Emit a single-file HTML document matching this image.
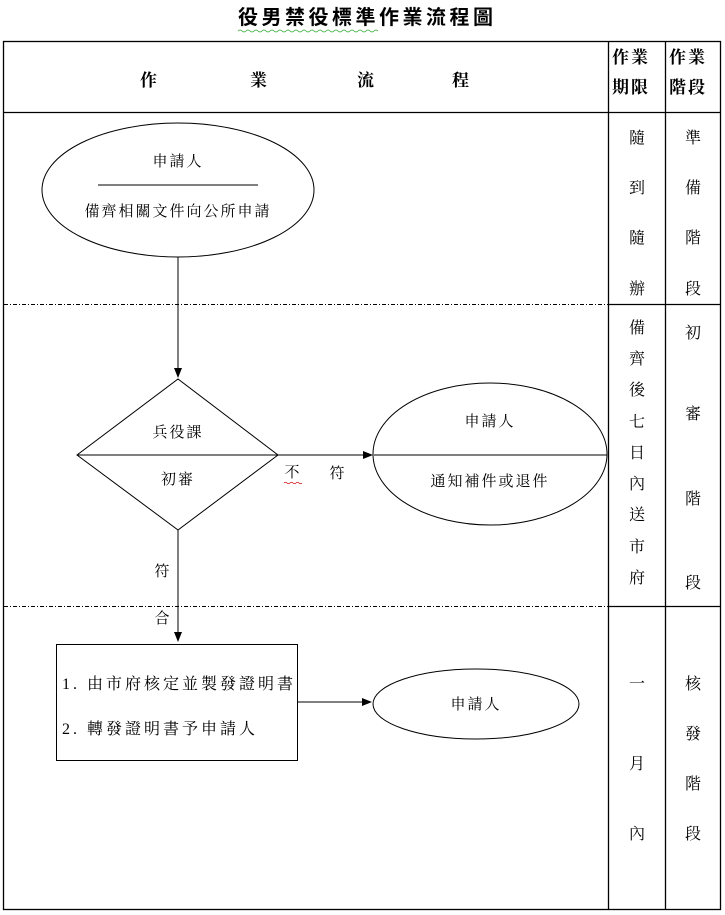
<!DOCTYPE html>
<html><head><meta charset="utf-8"><style>
body{margin:0;background:#fff;}
svg{display:block;}
text{font-family:"Liberation Serif","Noto Serif CJK SC","Noto Serif CJK TC",serif;fill:#000;}
.b{font-family:"Liberation Sans","Noto Sans CJK TC",sans-serif;font-weight:bold;}
</style></head><body>
<svg width="725" height="915" viewBox="0 0 725 915" xmlns="http://www.w3.org/2000/svg">
<defs><marker id="a" markerWidth="10" markerHeight="8" refX="9" refY="4" orient="auto" markerUnits="userSpaceOnUse"><path d="M0,0 L10,4 L0,8 Z" fill="#000"/></marker></defs>
<text class="b" x="238" y="24" font-size="20" letter-spacing="3.5">役男禁役標準作業流程圖</text>
<path d="M238 31 q2 -2 4 0 t4 0 t4 0 t4 0 t4 0 t4 0 t4 0 t4 0 t4 0 t4 0 t4 0 t4 0 t4 0 t4 0 t4 0 t4 0 t4 0 t4 0 t4 0 t4 0 t4 0 t4 0 t4 0 t4 0 t4 0 t4 0 t4 0 t4 0 t4 0 t4 0 t4 0 t4 0 t4 0 t4 0 t4 0" stroke="#3a3" fill="none" stroke-width="0.8"/>
<g stroke="#000" fill="none" stroke-width="1.3">
<rect x="3.5" y="41.5" width="717" height="868"/>
<line x1="3" y1="112.5" x2="721" y2="112.5"/>
<line x1="608.5" y1="41" x2="608.5" y2="909"/>
<line x1="665.5" y1="41" x2="665.5" y2="909"/>
<line x1="608" y1="304.5" x2="721" y2="304.5"/>
<line x1="608" y1="606.5" x2="721" y2="606.5"/>
</g>
<g stroke="#000" stroke-width="1" stroke-dasharray="4,2,1,2" fill="none">
<line x1="4" y1="304.5" x2="608" y2="304.5"/>
<line x1="4" y1="606.5" x2="608" y2="606.5"/>
</g>
<g class="b" font-size="17">
<text x="140" y="86">作</text><text x="250" y="86">業</text><text x="357" y="86">流</text><text x="452" y="86">程</text>
<text x="612" y="63" letter-spacing="2">作業</text><text x="612" y="93" letter-spacing="2">期限</text>
<text x="669" y="63" letter-spacing="2">作業</text><text x="669" y="93" letter-spacing="2">階段</text>
</g>
<g font-size="16" text-anchor="middle">
<text x="637" y="143">隨</text><text x="637" y="193">到</text><text x="637" y="243">隨</text><text x="637" y="294">辦</text>
<text x="693" y="143">準</text><text x="693" y="193">備</text><text x="693" y="243">階</text><text x="693" y="294">段</text>
<text x="637" y="333">備</text><text x="637" y="364">齊</text><text x="637" y="395">後</text><text x="637" y="427">七</text><text x="637" y="458">日</text><text x="637" y="489">內</text><text x="637" y="520">送</text><text x="637" y="552">市</text><text x="637" y="583">府</text>
<text x="693" y="338">初</text><text x="693" y="419">審</text><text x="693" y="504">階</text><text x="693" y="588">段</text>
<text x="637" y="689">一</text><text x="637" y="769">月</text><text x="637" y="839">內</text>
<text x="693" y="689">核</text><text x="693" y="739">發</text><text x="693" y="789">階</text><text x="693" y="839">段</text>
</g>
<g stroke="#000" fill="none" stroke-width="1">
<ellipse cx="178" cy="190" rx="136" ry="67"/>
<line x1="98" y1="185" x2="258" y2="185"/>
<line x1="178" y1="257" x2="178" y2="377" marker-end="url(#a)"/>
<polygon points="178,379 278,455 178,530 77,455"/>
<line x1="77" y1="455" x2="372" y2="455" marker-end="url(#a)"/>
<ellipse cx="490" cy="454" rx="117" ry="71"/>
<line x1="374" y1="455" x2="607" y2="455"/>
<line x1="178" y1="530" x2="178" y2="641" marker-end="url(#a)"/>
<rect x="56.5" y="644.5" width="241" height="116"/>
<line x1="297" y1="702" x2="371" y2="702" marker-end="url(#a)"/>
<ellipse cx="476" cy="704" rx="103" ry="35"/>
</g>
<path d="M284 483 q1.5 -1.5 3 0 t3 0 t3 0 t3 0 t3 0 t3 0" stroke="#c00" fill="none" stroke-width="0.7"/>
<g font-size="15" text-anchor="middle" letter-spacing="2">
<text x="178" y="166">申請人</text>
<text x="178" y="216">備齊相關文件向公所申請</text>
<text x="178" y="437">兵役課</text>
<text x="178" y="484">初審</text>
<text x="293" y="477">不</text><text x="338" y="478">符</text>
<text x="490" y="426">申請人</text>
<text x="490" y="486">通知補件或退件</text>
<text x="163" y="576">符</text><text x="163" y="623">合</text>
<text x="476" y="709">申請人</text>
</g>
<g font-size="16" letter-spacing="3">
<text x="62" y="689">1. 由市府核定並製發證明書</text>
<text x="62" y="734">2. 轉發證明書予申請人</text>
</g>
</svg>
</body></html>
